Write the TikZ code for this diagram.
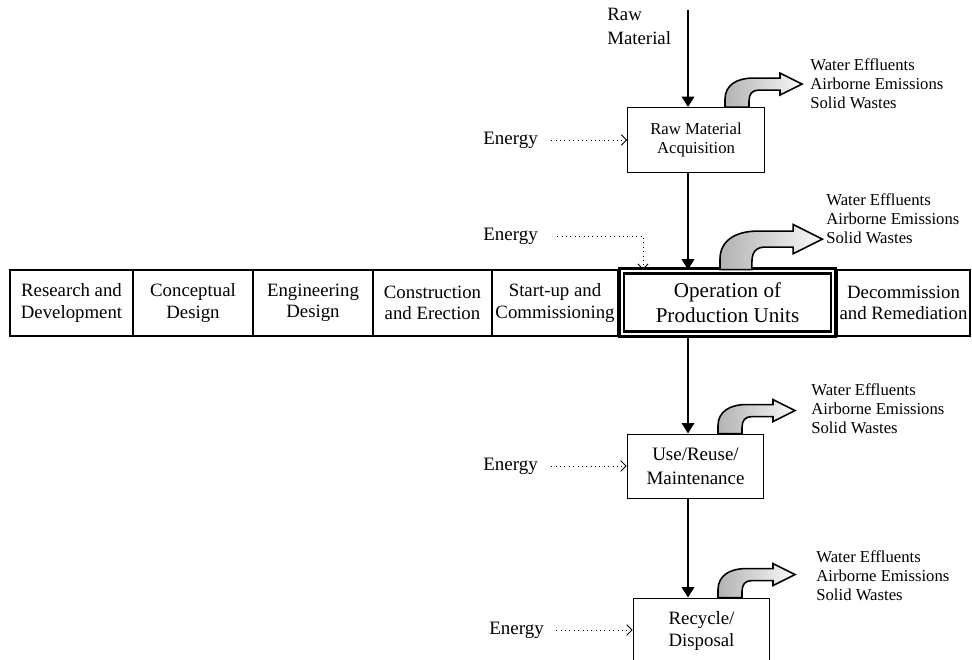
\documentclass[tikz,border=0pt]{standalone}
\usepackage{fontspec}
\setmainfont{Liberation Serif}
\usetikzlibrary{arrows.meta,calc}

\begin{document}
\begin{tikzpicture}[x=0.02cm, y=-0.02cm,
  cell/.style={rectangle, draw, line width=0.6pt, minimum height=1.32cm,
    inner sep=0pt, align=center, font=\fontsize{10.7}{12.2}\selectfont},
  stage/.style={rectangle, draw, line width=0.8pt, minimum width=2.73cm,
    minimum height=1.29cm, inner sep=0pt, align=center},
  opbox/.style={rectangle, draw, line width=1.5pt, double, double distance=1pt,
    minimum width=4.23cm, minimum height=1.26cm, inner sep=0pt, align=center,
    font=\fontsize{12}{14}\selectfont},
  energy/.style={anchor=west, inner sep=0pt, font=\fontsize{10.8}{13}\selectfont},
  waste/.style={anchor=west, inner sep=0pt, align=left,
    font=\fontsize{9.5}{10.8}\selectfont},
  flow/.style={line width=1.5pt, -{Triangle[length=6pt, width=7pt]}},
  feed/.style={line width=0.5pt, dotted, -{Straight Barb[length=3pt, width=6pt]}},
  outarrow/.style={draw=black, line width=0.9pt, left color=gray!60, right color=gray!5},
]
\useasboundingbox (0,0) rectangle (972,659);

% Life-cycle stages of the plant
\node[cell, minimum width=2.46cm] (rd) at (71.5,303) {Research and\\Development};
\node[cell, minimum width=2.4cm] (cd) at (193,303) {Conceptual\\Design};
\node[cell, minimum width=2.4cm] (ed) at (313,303) {Engineering\\Design};
\node[cell, minimum width=2.38cm] (ce) at (432.5,303) {Construction\\and Erection};
\node[cell, minimum width=2.52cm] (sc) at (555,303) {Start-up and\\Commissioning};
\node[opbox] (op) at (727.5,302.5) {Operation of\\Production Units};
\node[cell, minimum width=2.66cm] (dr) at (903.5,303) {Decommission\\and Remediation};

% Product stages
\node[stage, font=\fontsize{9.5}{10.4}\selectfont] (rma) at (696,140) {Raw Material\\Acquisition};
\node[stage, font=\fontsize{10.8}{14}\selectfont] (use) at (695.5,466.5) {Use/Reuse/\\Maintenance};
\node[stage, font=\fontsize{10.7}{12.5}\selectfont] (rec) at (701.5,630.5) {Recycle/\\Disposal};

% Raw material input and main flow
\node[anchor=west, inner sep=0pt, align=left, font=\fontsize{10.7}{13.6}\selectfont]
  (raw) at (607,26) {Raw\\Material};
\coordinate (spine) at (688,0);
\coordinate (rawin) at (688,10);
\draw[flow] (rawin) -- (rawin |- rma.north);
\draw[flow] (spine |- rma.south) -- (spine |- op.north);
\draw[flow] (spine |- op.south) -- (spine |- use.north);
\draw[flow] (spine |- use.south) -- (spine |- rec.north);

% Energy inputs
\node[energy] (e1) at (483,140) {Energy};
\node[energy] (e2) at (483,236) {Energy};
\node[energy] (e3) at (483,466) {Energy};
\node[energy] (e4) at (489,630) {Energy};
\coordinate (etap) at (643,0);
\draw[feed] ([xshift=0.26cm]e1.east) -- (e1.east -| rma.west);
\draw[feed] ([xshift=0.38cm]e2.east) -| (etap |- op.north);
\draw[feed] ([xshift=0.26cm]e3.east) -- (e3.east -| use.west);
\draw[feed] ([xshift=0.24cm]e4.east) -- (e4.east -| rec.west);

% Emissions
\node[waste] (w1) at (810,84) {Water Effluents\\Airborne Emissions\\Solid Wastes};
\node[waste] (w2) at (826,219) {Water Effluents\\Airborne Emissions\\Solid Wastes};
\node[waste] (w3) at (811,409) {Water Effluents\\Airborne Emissions\\Solid Wastes};
\node[waste] (w4) at (816,576) {Water Effluents\\Airborne Emissions\\Solid Wastes};

\begin{scope}[shift={($(spine |- rma.north)+(37,0)$)}]
  \path[outarrow] (0,0) -- (0,-8) .. controls (0,-22) and (12,-29) .. (28,-29)
    -- (55,-29) -- (55,-34) -- (77,-23) -- (55,-12) -- (55,-17) -- (34,-17)
    .. controls (27,-17) and (24,-13) .. (24,-6) -- (24,0) -- cycle;
\end{scope}
\begin{scope}[shift={($(spine |- op.north)+(32,0)$)}, scale=1.33]
  \path[outarrow] (0,0) -- (0,-8) .. controls (0,-22) and (12,-29) .. (28,-29)
    -- (55,-29) -- (55,-34) -- (77,-23) -- (55,-12) -- (55,-17) -- (34,-17)
    .. controls (27,-17) and (24,-13) .. (24,-6) -- (24,0) -- cycle;
\end{scope}
\begin{scope}[shift={($(spine |- use.north)+(30,0)$)}]
  \path[outarrow] (0,0) -- (0,-8) .. controls (0,-22) and (12,-29) .. (28,-29)
    -- (55,-29) -- (55,-34) -- (77,-23) -- (55,-12) -- (55,-17) -- (34,-17)
    .. controls (27,-17) and (24,-13) .. (24,-6) -- (24,0) -- cycle;
\end{scope}
\begin{scope}[shift={($(spine |- rec.north)+(30,0)$)}]
  \path[outarrow] (0,0) -- (0,-8) .. controls (0,-22) and (12,-29) .. (28,-29)
    -- (55,-29) -- (55,-34) -- (77,-23) -- (55,-12) -- (55,-17) -- (34,-17)
    .. controls (27,-17) and (24,-13) .. (24,-6) -- (24,0) -- cycle;
\end{scope}

\end{tikzpicture}
\end{document}
